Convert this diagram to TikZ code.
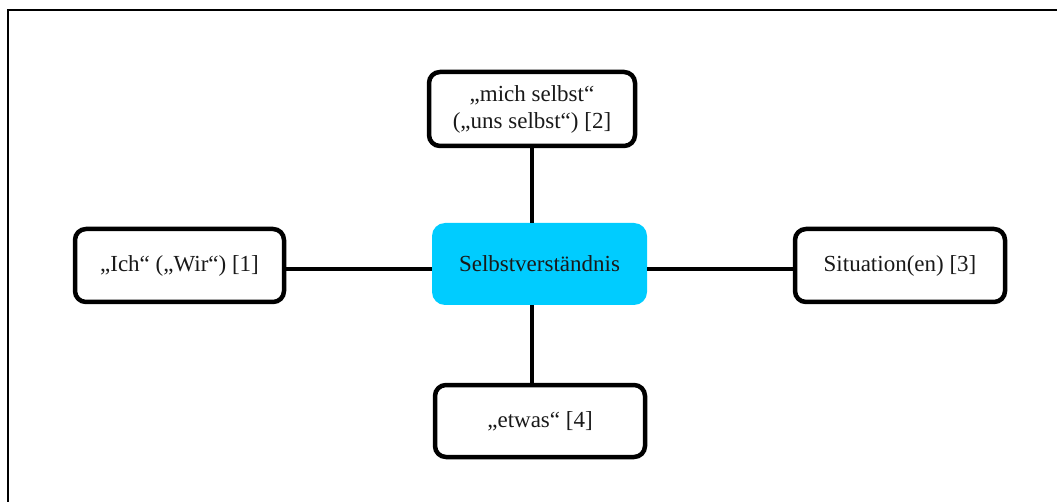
\documentclass[tikz,border=0pt]{standalone}
\usepackage{fontspec}
\setmainfont{Liberation Serif}
\definecolor{hub}{HTML}{00CCFF}
\begin{document}
\begin{tikzpicture}[x=1pt,y=-1pt,
  every node/.style={font=\fontsize{23}{27}\selectfont, text=black!90},
  frame/.style={draw=black, line width=4.5pt, rounded corners=11pt, align=center, inner sep=0pt},
  hubbox/.style={fill=hub, rounded corners=13pt, inner sep=0pt},
  link/.style={draw=black, line width=4.5pt}]
\useasboundingbox (0,0) rectangle (1057,502);
\clip (0,0) rectangle (1057,502);
\draw[line width=2pt] (1060,10) -- (7.5,10) -- (7.5,505);
\node[hubbox, minimum width=215pt, minimum height=82pt] (ctr) at (539.5,264) {Selbstverständnis};
\node[frame, minimum width=206pt, minimum height=74pt] (top) at (532,109) {„mich selbst“\\(„uns selbst“) [2]};
\node[frame, minimum width=209pt, minimum height=73pt] (lft) at (179.5,265.5) {„Ich“ („Wir“) [1]};
\node[frame, minimum width=210pt, minimum height=73pt] (rgt) at (900,265.5) {Situation(en) [3]};
\node[frame, minimum width=210pt, minimum height=72pt] (bot) at (540,421) {„etwas“ [4]};
\coordinate (hy) at (0,269);
\coordinate (vx) at (532,0);
\path[link] (lft.east |- hy) -- (ctr.west |- hy);
\path[link] (ctr.east |- hy) -- (rgt.west |- hy);
\path[link] (vx |- top.south) -- (vx |- ctr.north);
\path[link] (vx |- ctr.south) -- (vx |- bot.north);
\end{tikzpicture}
\end{document}
